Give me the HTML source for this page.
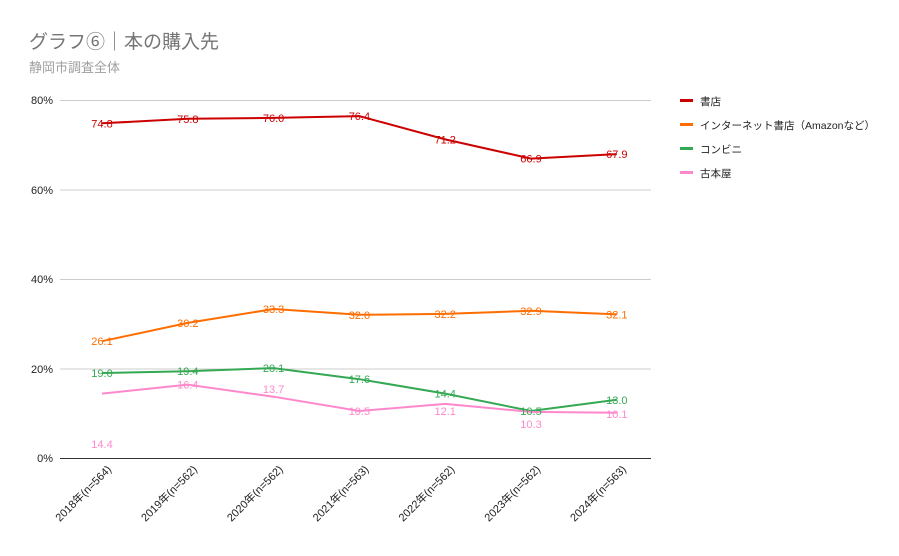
<!DOCTYPE html>
<html><head><meta charset="utf-8"><style>
body{margin:0;background:#fff;}
svg{display:block;font-family:"Liberation Sans","Noto Sans CJK JP",sans-serif;}
</style></head><body>
<svg width="899" height="556" viewBox="0 0 899 556">
<rect width="899" height="556" fill="#fff"/>
<text x="29" y="48" font-size="19" fill="#757575">グラフ⑥｜本の購入先</text>
<text x="29" y="72" font-size="13" fill="#9e9e9e">静岡市調査全体</text>
<g stroke="#ccc" stroke-width="1">
<line x1="60" y1="100.5" x2="651" y2="100.5"/><line x1="60" y1="190" x2="651" y2="190"/>
<line x1="60" y1="279.5" x2="651" y2="279.5"/><line x1="60" y1="369" x2="651" y2="369"/>
</g>
<line x1="60" y1="458.5" x2="651" y2="458.5" stroke="#333" stroke-width="1"/>
<g font-size="11" fill="#222" text-anchor="end">
<text x="53" y="104">80%</text><text x="53" y="194">60%</text><text x="53" y="283">40%</text><text x="53" y="373">20%</text><text x="53" y="462">0%</text>
</g>
<g font-size="11" fill="#222" text-anchor="end">
<text transform="translate(112,470) rotate(-45)">2018年(n=564)</text>
<text transform="translate(197.8,470) rotate(-45)">2019年(n=562)</text>
<text transform="translate(283.6,470) rotate(-45)">2020年(n=562)</text>
<text transform="translate(369.4,470) rotate(-45)">2021年(n=563)</text>
<text transform="translate(455.2,470) rotate(-45)">2022年(n=562)</text>
<text transform="translate(541,470) rotate(-45)">2023年(n=562)</text>
<text transform="translate(626.8,470) rotate(-45)">2024年(n=563)</text>
</g>
<g fill="none" stroke-width="2">
<polyline stroke="#cc0000" points="102,123.3 187.8,118.8 273.6,117.9 359.4,116.1 445.2,139.4 531,158.6 616.8,154.1"/>
<polyline stroke="#ff6d01" points="102,341.2 187.8,322.9 273.6,309 359.4,314.8 445.2,313.9 531,310.8 616.8,314.4"/>
<polyline stroke="#34a853" points="102,373 187.8,371.2 273.6,368.1 359.4,379.2 445.2,393.6 531,411 616.8,399.8"/>
<polyline stroke="#ff88cc" points="102,393.6 187.8,384.6 273.6,396.7 359.4,411 445.2,403.9 531,411.9 616.8,412.8"/>
</g>
<g font-size="11" text-anchor="middle">
<g fill="#cc0000">
<text x="102" y="127.3">74.8</text><text x="187.8" y="122.8">75.8</text><text x="273.6" y="121.9">76.0</text><text x="359.4" y="120.1">76.4</text><text x="445.2" y="143.4">71.2</text><text x="531" y="162.6">66.9</text><text x="616.8" y="158.1">67.9</text></g>
<g fill="#ff6d01">
<text x="102" y="345.2">26.1</text><text x="187.8" y="326.9">30.2</text><text x="273.6" y="313">33.3</text><text x="359.4" y="318.8">32.0</text><text x="445.2" y="317.9">32.2</text><text x="531" y="314.8">32.9</text><text x="616.8" y="318.4">32.1</text></g>
<g fill="#34a853">
<text x="102" y="377">19.0</text><text x="187.8" y="375.2">19.4</text><text x="273.6" y="372.1">20.1</text><text x="359.4" y="383.2">17.6</text><text x="445.2" y="397.6">14.4</text><text x="531" y="415">10.5</text><text x="616.8" y="403.8">13.0</text></g>
<g fill="#ff88cc">
<text x="102" y="448">14.4</text><text x="187.8" y="388.6">16.4</text><text x="273.6" y="393">13.7</text><text x="359.4" y="415">10.5</text><text x="445.2" y="415">12.1</text><text x="531" y="428">10.3</text><text x="616.8" y="418">10.1</text></g>
</g>
<g font-size="10.5" fill="#222">
<rect x="680" y="99" width="13" height="3" fill="#cc0000"/><text x="700" y="105">書店</text>
<rect x="680" y="123" width="13" height="3" fill="#ff6d01"/><text x="700" y="129">インターネット書店（Amazonなど）</text>
<rect x="680" y="147" width="13" height="3" fill="#34a853"/><text x="700" y="153">コンビニ</text>
<rect x="680" y="171" width="13" height="3" fill="#ff88cc"/><text x="700" y="177">古本屋</text>
</g>
</svg>
</body></html>
